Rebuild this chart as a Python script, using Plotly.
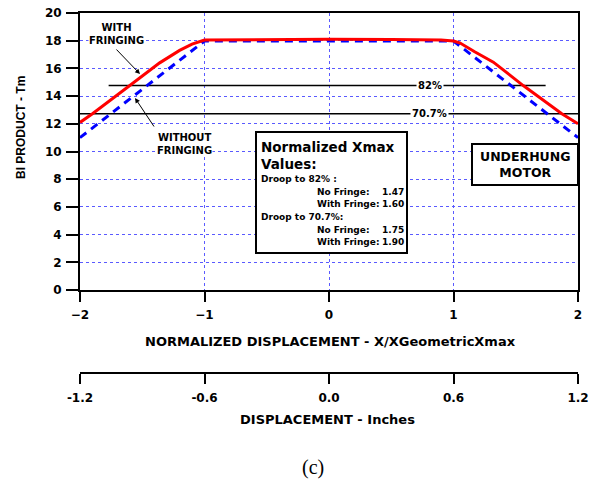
import plotly.graph_objects as go

# ---------------- data ----------------
# normalized displacement vs Bl product (Tm)
with_x = [-2.0, -1.9, -1.6, -1.36, -1.2, -1.1, -1.0, -0.5, 0.0, 0.5, 0.9, 1.0, 1.05, 1.17, 1.32, 1.56, 1.87, 2.0]
with_y = [12.1, 12.73, 14.76, 16.4, 17.3, 17.75, 18.05, 18.1, 18.1, 18.08, 18.05, 17.98, 17.85, 17.2, 16.45, 14.76, 12.73, 12.0]
without_x = [-2.0, -1.0, 1.0, 2.0]
without_y = [11.0, 17.98, 17.98, 11.0]

# droop reference levels (fraction of 18 Tm)
peak_bl = 18.0
droop_pct = [82, 70.7]
droop_x0 = [-1.77, -2.0]
droop_x1 = [1.74, 2.0]
droop_labels = ["82%", "70.7%"]
droop_titles = ["Droop to 82% :", "Droop to 70.7%:"]

no_fringe = [1.47, 1.75]
with_fringe = [1.60, 1.90]

x_ticks = [-2, -1, 0, 1, 2]
y_ticks = list(range(0, 21, 2))
inch_ticks = [-1.2, -0.6, 0.0, 0.6, 1.2]
inch_labels = ["-1.2", "-0.6", "0.0", "0.6", "1.2"]

# ---------------- layout helpers (pixel -> paper) ----------------
W, H = 591, 480
ML, MR, MT, MB = 80, 13, 13, 90
PW, PH = W - ML - MR, H - MT - MB


def px(p):
    return (p - ML) / PW


def py(p):
    return (H - MB - p) / PH


SANS = "DejaVu Sans"
ARIAL = "Liberation Sans"


def f(size, fam=SANS, color="black", weight="bold"):
    return dict(family=fam, size=size, color=color, weight=weight)


def note(xp, yp, text, size, xanchor="center", fam=SANS, weight="bold", **kw):
    d = dict(x=px(xp), y=py(yp), xref="paper", yref="paper", text=text,
             xanchor=xanchor, yanchor="middle", showarrow=False,
             font=f(size, fam, weight=weight))
    d.update(kw)
    return d


fig = go.Figure()

# droop reference lines
for lvl, a, b in zip(droop_pct, droop_x0, droop_x1):
    v = peak_bl * lvl / 100
    fig.add_trace(go.Scatter(x=[a, b], y=[v, v], mode="lines",
                             line=dict(color="black", width=1.5), showlegend=False, hoverinfo="skip"))

fig.add_trace(go.Scatter(x=without_x, y=without_y, mode="lines",
                         line=dict(color="rgb(0,0,255)", width=3, dash="8px,6px"),
                         showlegend=False))
fig.add_trace(go.Scatter(x=with_x, y=with_y, mode="lines",
                         line=dict(color="rgb(255,0,0)", width=3),
                         showlegend=False))
# dummy trace for the inches axis
fig.add_trace(go.Scatter(x=[], y=[], xaxis="x2", yaxis="y2", showlegend=False))

grid = dict(showgrid=True, gridcolor="rgb(90,90,255)", gridwidth=1, griddash="dot")
axline = dict(showline=True, linecolor="black", linewidth=2, ticks="outside",
              tickwidth=2, tickcolor="black", zeroline=False, automargin=False)

fig.update_layout(
    width=W, height=H, autosize=False,
    margin=dict(l=ML, r=MR, t=MT, b=MB, pad=0),
    paper_bgcolor="white", plot_bgcolor="white",
    showlegend=False,
    xaxis=dict(range=[-2, 2], tickvals=x_ticks, ticklen=10, mirror=True,
               tickfont=f(12), anchor="y", ticklabelstandoff=3, **grid, **axline),
    yaxis=dict(range=[0, 20], tickvals=y_ticks, ticklen=12, mirror=True,
               domain=[py(290), 1], tickfont=f(12), anchor="x", ticklabelstandoff=2,
               **grid, **axline),
    xaxis2=dict(range=[-1.2, 1.2], tickvals=inch_ticks, ticktext=inch_labels,
                ticklen=10, anchor="y2", side="bottom", showgrid=False,
                tickfont=f(12), ticklabelstandoff=4, **axline),
    yaxis2=dict(domain=[py(372), py(372) + 0.01], visible=False, range=[0, 1],
                anchor="x2"),
)

ann = []

# droop labels on the lines
for lvl, lab in zip(droop_pct, droop_labels):
    ann.append(dict(x=0.81, y=peak_bl * lvl / 100, xref="x", yref="y", text=lab,
                    xanchor="center", yanchor="middle",
                    showarrow=False, bgcolor="white", borderpad=1, font=f(10)))

# curve labels
ann.append(note(116, 34, "WITH<br>FRINGING", 10, bgcolor="white", borderpad=0))
ann.append(note(184, 144, "WITHOUT<br>FRINGING", 10, bgcolor="white", borderpad=0))
# arrows
ann.append(dict(x=px(140), y=py(74), xref="paper", yref="paper", text="", showarrow=True,
                ax=-25, ay=-26, arrowhead=2, arrowsize=1, arrowwidth=1, arrowcolor="black", standoff=0))
ann.append(dict(x=px(135), y=py(98), xref="paper", yref="paper", text="", showarrow=True,
                ax=20, ay=30, arrowhead=2, arrowsize=1, arrowwidth=1, arrowcolor="black", standoff=0))

# normalized Xmax box text
ann.append(note(259, 147, "Normalized Xmax", 13.5, xanchor="left"))
ann.append(note(259, 164, "Values:", 13.5, xanchor="left"))
droop_row_y = [179, 217]
for i, lvl in enumerate(droop_pct):
    y0 = droop_row_y[i]
    ann.append(note(259, y0, droop_titles[i], 9, xanchor="left"))
    for j, (name, val) in enumerate([("No Fringe:", no_fringe[i]), ("With Fringe:", with_fringe[i])]):
        yy = y0 + 12.5 * (j + 1)
        ann.append(note(315, yy, name, 9, xanchor="left"))
        ann.append(note(406, yy, f"{val:.2f}", 9, xanchor="right"))

# underhung motor
ann.append(note(525, 164.5, "UNDERHUNG<br>MOTOR", 12.5))

# axis titles
ann.append(note(21, 128, "BI PRODUCT - Tm", 12, fam=ARIAL, textangle=-90))
ann.append(note(330, 341, "NORMALIZED DISPLACEMENT - X/XGeometricXmax", 13))
ann.append(note(327, 420, "DISPLACEMENT - Inches", 13))
ann.append(note(313, 467, "(c)", 20, fam="Liberation Serif", weight="normal"))

fig.update_layout(annotations=ann)

fig.update_layout(shapes=[
    dict(type="rect", xref="paper", yref="paper", x0=px(256), x1=px(407), y0=py(253), y1=py(132),
         fillcolor="white", line=dict(color="black", width=2), layer="above"),
    dict(type="rect", xref="paper", yref="paper", x0=px(472), x1=px(578), y0=py(185), y1=py(144),
         fillcolor="white", line=dict(color="black", width=2), layer="above"),
])

fig.write_html("out.html")
